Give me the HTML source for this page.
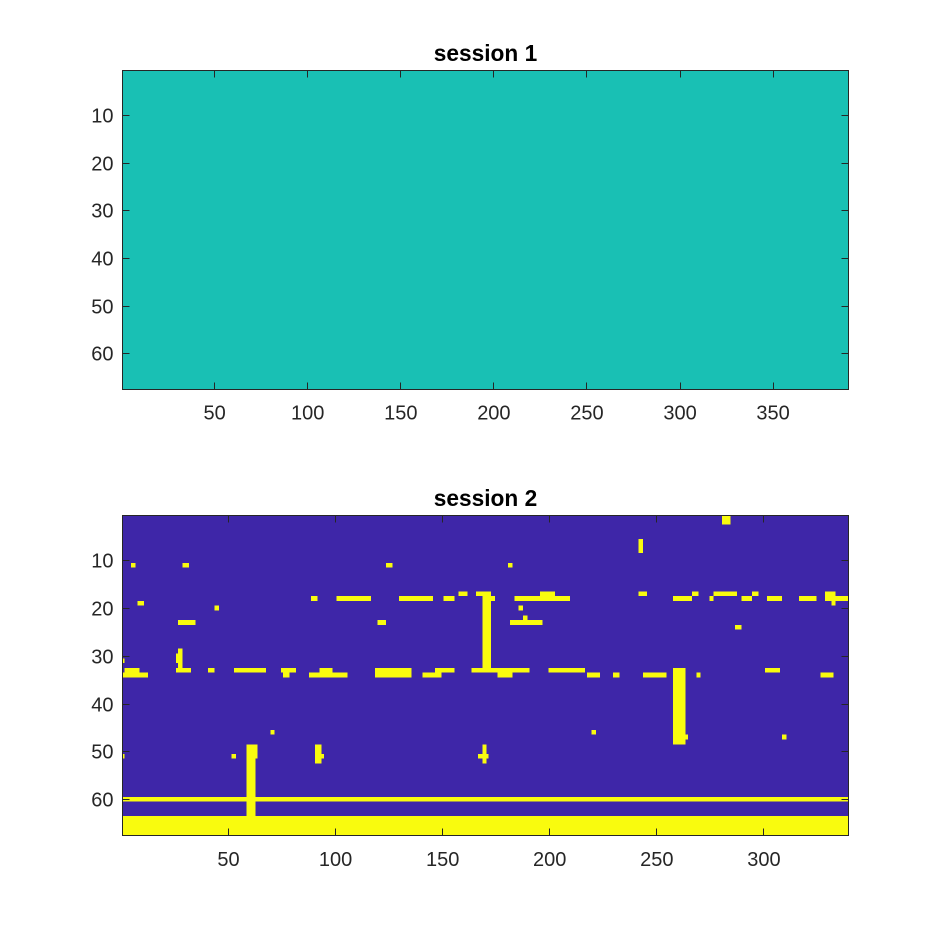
<!DOCTYPE html>
<html>
<head>
<meta charset="utf-8">
<style>
html,body{margin:0;padding:0;background:#fff;width:938px;height:938px;overflow:hidden}
svg{display:block}
text{font-family:"Liberation Sans",sans-serif;fill:#262626}
</style>
</head>
<body>
<svg id="chart" width="938" height="938" viewBox="0 0 938 938" xmlns="http://www.w3.org/2000/svg">
<rect x="0" y="0" width="938" height="938" fill="#ffffff"/>
</svg>
<script>
// Matrix sizes
const session1Size = [67, 390];
const session2Size = [67, 339];
// Session 1: one uniform block [rowStart, rowEnd, colStart, colEnd]
const session1Blocks = [[1, 67, 1, 390]];
// Session 2: background is 0; these blocks are 1 [rowStart, rowEnd, colStart, colEnd]
const session2Blocks = [
  [1,2,281,284],[6,8,242,243],[11,11,5,6],[11,11,29,31],[11,11,124,126],[11,11,181,182],
  [17,17,158,161],[17,17,166,172],[17,17,196,202],[17,17,242,245],[17,17,267,269],[17,17,277,287],
  [17,17,295,297],[17,18,329,333],[18,18,89,91],[18,18,101,116],[18,18,130,145],[18,18,151,155],
  [18,18,169,174],[18,18,184,209],[18,18,258,266],[18,18,275,276],[18,18,290,294],[18,18,302,308],
  [18,18,317,324],[18,18,329,339],[19,19,8,10],[19,19,332,333],[20,20,44,45],[20,20,186,187],
  [22,22,188,189],[23,23,27,34],[23,23,120,123],[23,23,182,196],[24,24,287,289],[18,32,169,172],
  [29,29,27,28],[30,31,26,28],[31,31,1,1],[32,32,27,28],[33,33,2,8],[33,33,26,32],[33,33,41,43],
  [33,33,53,67],[33,33,75,81],[33,33,93,98],[33,34,119,135],[33,33,147,155],[33,33,164,190],
  [33,33,200,216],[33,48,258,263],[33,33,301,307],[34,34,1,12],[34,34,76,78],[34,34,88,105],
  [34,34,141,149],[34,34,176,182],[34,34,218,223],[34,34,230,232],[34,34,244,254],[34,34,269,270],
  [34,34,327,332],[46,46,70,71],[46,46,220,221],[47,47,264,264],[47,47,309,310],[49,51,59,63],
  [49,52,91,93],[49,52,169,170],[51,51,1,1],[51,51,52,53],[51,51,94,94],[51,51,167,171],
  [52,63,59,62],[60,60,1,339],[64,67,1,339]
];
// Tick labels
const session1XTicks = [50, 100, 150, 200, 250, 300, 350];
const session2XTicks = [50, 100, 150, 200, 250, 300];
const yTicks = [10, 20, 30, 40, 50, 60];
const titles = ["session 1", "session 2"];

const svg = document.getElementById('chart');
const NS = 'http://www.w3.org/2000/svg';

function make(tag, attrs, parent) {
  const el = document.createElementNS(NS, tag);
  for (const k in attrs) el.setAttribute(k, attrs[k]);
  parent.appendChild(el);
  return el;
}

function drawPanel(key, box, size, blocks, bgColor, blockColor, xTicks, title, baselines) {
  const group = make('g', {}, svg);
  
  

  const rows = size[0], cols = size[1];
  const xEdge = c => box.x + (c - 1) * box.w / cols;
  const yEdge = r => box.y - 0.5 + (r - 1) * box.h / rows;
  const xCenter = v => box.x + (v - 0.5) * box.w / cols;
  const yCenter = v => box.y + (v - 0.5) * box.h / rows;
  const snap = v => Math.floor(v) + 0.5;

  if (bgColor) {
    const bg = make('rect', {x: box.x, y: box.y, width: box.w, height: box.h, fill: bgColor, 'shape-rendering': 'crispEdges'}, group);
    
    
  }
  blocks.forEach(b => {
    const x0 = xEdge(b[2]), x1 = xEdge(b[3] + 1);
    const y0 = yEdge(b[0]), y1 = yEdge(b[1] + 1);
    const r = make('rect', {x: x0, y: y0, width: x1 - x0, height: y1 - y0, fill: blockColor, 'shape-rendering': 'crispEdges'}, group);
    
    
  });

  const ink = '#262626';
  const ax = make('rect', {x: box.x, y: box.y, width: box.w, height: box.h, fill: 'none', stroke: ink, 'stroke-width': 1, 'shape-rendering': 'crispEdges'}, group);
  
  

  const tickLen = 7;
  xTicks.forEach(t => {
    const x = snap(xCenter(t));
    const bottom = box.y + box.h;
    const t1 = make('line', {x1: x, x2: x, y1: bottom, y2: bottom - tickLen, stroke: ink, 'stroke-width': 1, 'shape-rendering': 'crispEdges'}, group);
    
    
    const t2 = make('line', {x1: x, x2: x, y1: box.y, y2: box.y + tickLen, stroke: ink, 'stroke-width': 1, 'shape-rendering': 'crispEdges'}, group);
    
    
    const lab = make('text', {x: xCenter(t), y: baselines.x, 'text-anchor': 'middle', 'font-size': 20}, group);
    
    
    lab.textContent = String(t);
  });
  yTicks.forEach(t => {
    const y = snap(yCenter(t));
    const right = box.x + box.w;
    const t1 = make('line', {x1: box.x, x2: box.x + tickLen, y1: y, y2: y, stroke: ink, 'stroke-width': 1, 'shape-rendering': 'crispEdges'}, group);
    
    
    const t2 = make('line', {x1: right, x2: right - tickLen, y1: y, y2: y, stroke: ink, 'stroke-width': 1, 'shape-rendering': 'crispEdges'}, group);
    
    
    const lab = make('text', {x: box.x - 9, y: y + 7, 'text-anchor': 'end', 'font-size': 20}, group);
    
    
    lab.textContent = String(t);
  });

  const tt = make('text', {x: box.x + box.w / 2, y: baselines.title, 'text-anchor': 'middle', 'font-size': 22.7, 'font-weight': 'bold', style: 'fill:#000'}, group);
  
  
  tt.textContent = title;
}

drawPanel('session-1', {x: 122.5, y: 70.5, w: 726, h: 319}, session1Size, session1Blocks, null, '#19c0b4', session1XTicks, titles[0], {x: 419.5, title: 61});
drawPanel('session-2', {x: 122.5, y: 515.5, w: 726, h: 320}, session2Size, session2Blocks, '#3e26a8', '#f9fb0e', session2XTicks, titles[1], {x: 866, title: 506});
</script>
</body>
</html>
